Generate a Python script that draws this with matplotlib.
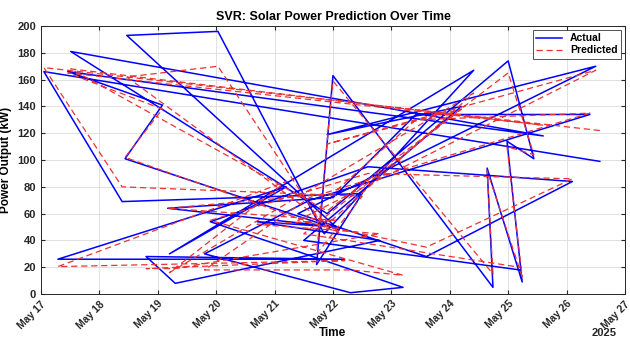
import numpy as np
import pandas as pd
import matplotlib
matplotlib.use("Agg")
import matplotlib.pyplot as plt
import matplotlib.dates as mdates

plt.rcParams['font.family'] = ['Liberation Sans', 'DejaVu Sans']

# sample times (days into May 2025), measured and predicted output in kW
day = [26.57, 17.05, 18.39, 22.50, 21.72, 22.00, 24.74, 24.64, 25.24, 24.98,
       25.44, 25.00, 21.90, 17.51, 25.60, 17.46, 19.08, 18.44, 22.10, 18.47,
       20.03, 21.85, 24.41, 19.20, 21.20, 17.29, 22.20, 18.80, 19.30, 22.80,
       20.70, 22.05, 19.17, 22.00, 23.42, 26.40, 21.60, 19.80, 22.30, 23.20,
       19.90, 22.60, 26.10, 23.60, 21.40, 26.50, 21.90, 24.20, 21.50, 25.20]
actual = [99, 166, 69, 75, 22, 163, 5, 94, 9, 114,
          101, 174, 60, 181, 118, 166, 141, 101, 48, 193,
          196, 45, 167, 30, 80, 26, 26, 28, 8, 40,
          54, 50, 64, 72, 134, 134, 70, 30, 1, 5,
          54, 95, 84, 28, 60, 170, 119, 140, 40, 18]
predicted = [122, 169, 80, 73, 30, 159, 15, 92, 13, 110,
             104, 165, 62, 168, 126, 165, 138, 102, 46, 162,
             170, 50, 150, 16, 84, 20.5, 25, 19, 19, 45,
             52, 55, 64, 75, 130, 135, 72, 18, 18, 14,
             55, 90, 86, 35, 55, 167, 112, 138, 45, 20]

t0 = pd.Timestamp("2025-05-01")
times = [t0 + pd.Timedelta(days=d - 1) for d in day]

fig = plt.figure(figsize=(6.3, 3.38), dpi=100)
ax = fig.add_axes([0.065, 0.130, 0.927, 0.793])

ax.plot(times, actual, color=(0, 0, 1), lw=1.1, label="Actual")
ax.plot(times, predicted, color=(0.92, 0.2, 0.2), lw=0.9, ls=(0, (5, 3)),
        label="Predicted")

ax.set_xlim(pd.Timestamp("2025-05-17"), pd.Timestamp("2025-05-27"))
ax.set_ylim(0, 200)
ax.set_yticks(range(0, 201, 20))
ax.xaxis.set_major_locator(mdates.DayLocator())
ax.xaxis.set_major_formatter(mdates.DateFormatter("%b %d"))

ax.tick_params(direction="in", labelsize=8, colors="#262626", length=3,
               top=True, right=True)
ax.tick_params(axis="x", labelsize=7.5)
for lab in ax.get_xticklabels():
    lab.set_rotation(45)
    lab.set_ha("right")
    lab.set_rotation_mode("anchor")
for lab in ax.get_xticklabels() + ax.get_yticklabels():
    lab.set_fontweight("bold")
for s in ax.spines.values():
    s.set_color("#262626")
    s.set_linewidth(0.7)
ax.grid(True, color="#dcdcdc", lw=0.6)
ax.set_axisbelow(True)

ax.set_title("SVR: Solar Power Prediction Over Time", fontsize=9,
             fontweight="bold", pad=4)
ax.set_ylabel("Power Output (kW)", fontsize=8.5, fontweight="bold", labelpad=4)
ax.text(0.5, -0.145, "Time", transform=ax.transAxes, ha="center", va="center",
        fontsize=8.5, fontweight="bold")
ax.text(0.985, -0.145, "2025", transform=ax.transAxes, ha="right", va="center",
        fontsize=8, fontweight="bold", color="#262626")

leg = ax.legend(loc="upper right", fontsize=7.5, frameon=True, fancybox=False,
                edgecolor="#262626", handlelength=2.5, borderpad=0.3,
                labelspacing=0.2, borderaxespad=0.4)
leg.get_frame().set_linewidth(0.7)
for txt in leg.get_texts():
    txt.set_fontweight("bold")

fig.savefig("out.png", dpi=100)
